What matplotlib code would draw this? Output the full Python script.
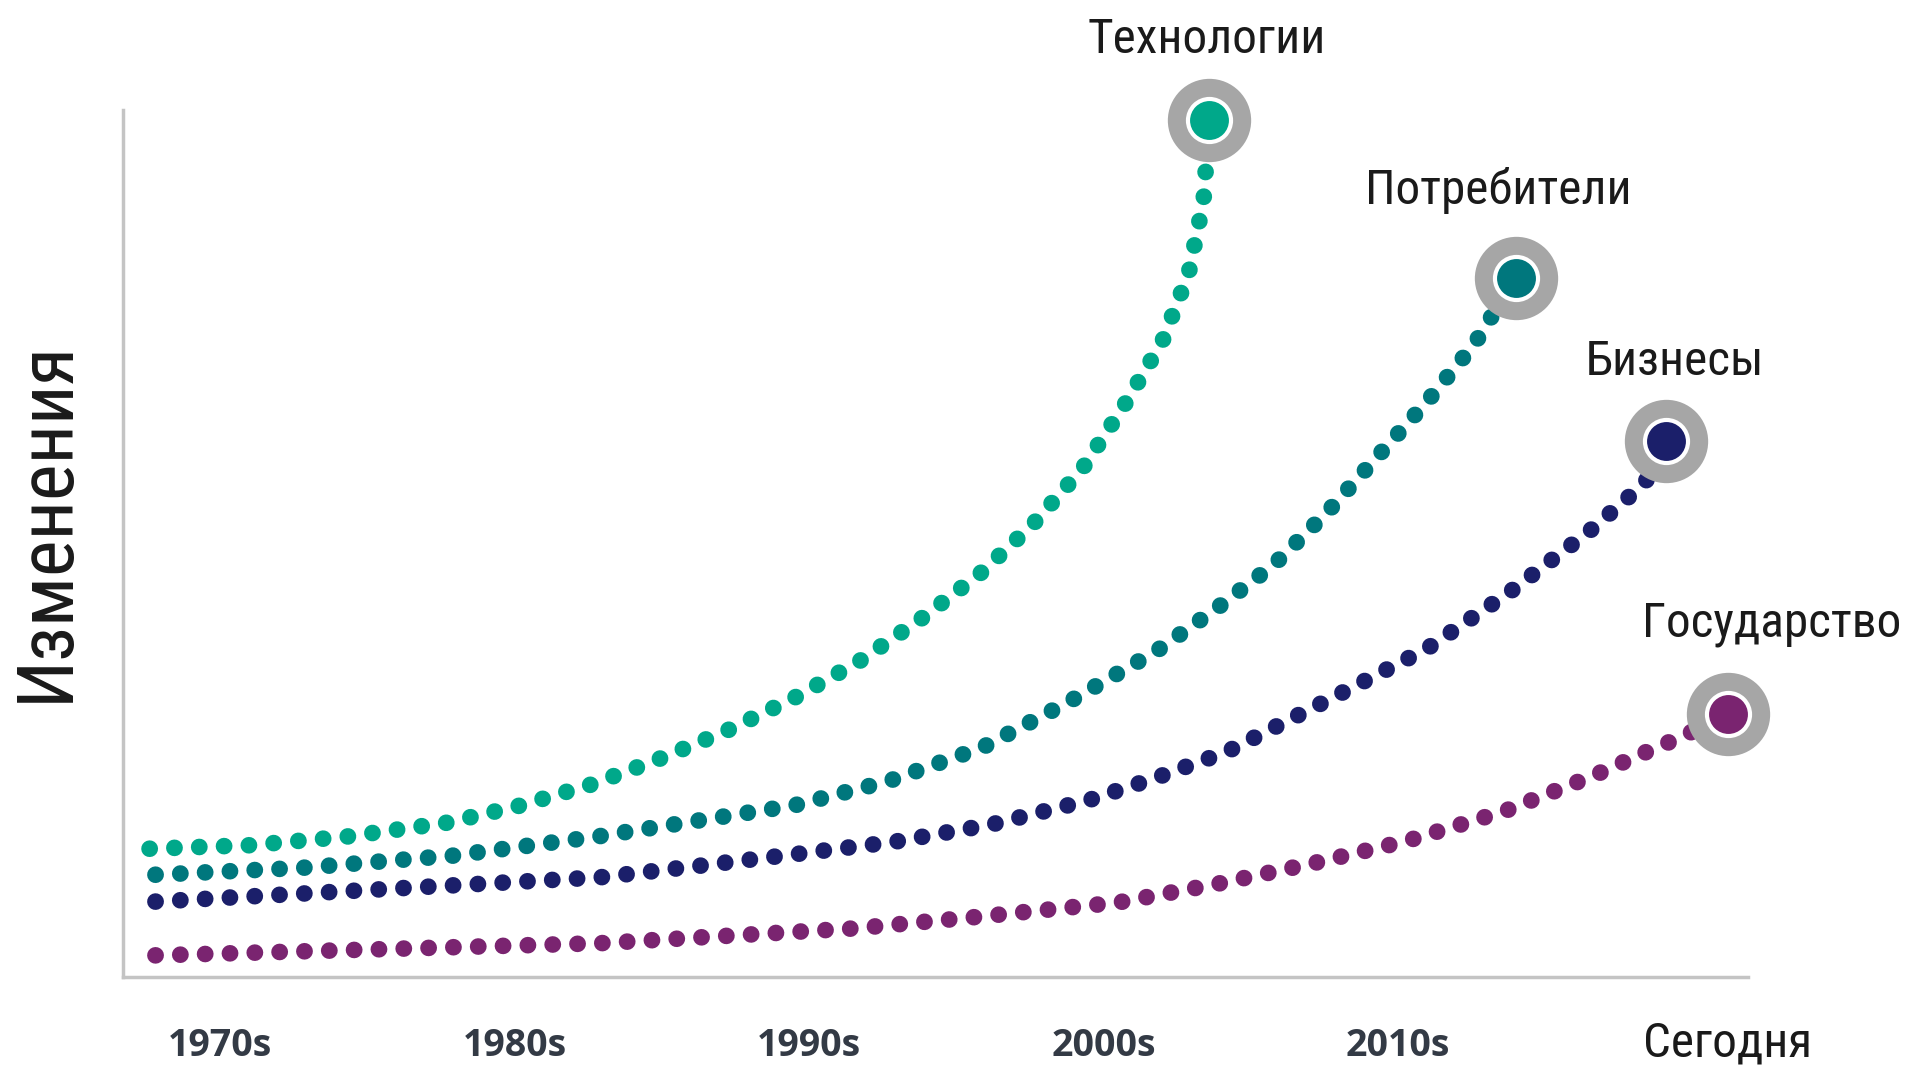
import matplotlib
matplotlib.use("Agg")
import matplotlib.pyplot as plt
from matplotlib import font_manager

# fonts
names = {f.name for f in font_manager.fontManager.ttflist}
narrow = [n for n in ['Roboto Condensed', 'Liberation Sans Narrow', 'Roboto'] if n in names]

# data (x in years, y = relative change index)
tech_x = [1972.6, 1976.0, 1979.3, 1982.7, 1985.1, 1987.6, 1989.8, 1992.2, 1994.5, 1996.7,
          1998.8, 2000.8, 2002.6, 2004.3, 2005.7, 2007.0, 2007.9, 2008.4, 2008.6]
tech_y = [14.8, 15.2, 16.2, 17.8, 19.7, 22.2, 25.0, 28.4, 32.2, 36.4,
          41.3, 46.5, 52.2, 58.7, 65.9, 73.3, 81.2, 89.5, 98.9]

cons_x = [1972.8, 1977.8, 1982.9, 1987.8, 1994.5, 1997.7, 2000.9, 2003.8, 2006.8, 2008.8,
          2010.8, 2012.6, 2014.3, 2016.0, 2017.6, 2019.0]
cons_y = [11.8, 12.6, 14.0, 16.2, 19.8, 22.6, 26.5, 31.7, 37.6, 42.4,
          47.6, 53.6, 60.0, 66.4, 73.0, 80.6]

biz_x = [1972.8, 1987.9, 1991.2, 1994.6, 1997.9, 2001.2, 2004.5, 2006.8, 2009.2, 2013.0,
         2016.0, 2018.8, 2021.5, 2023.4, 2024.1]
biz_y = [8.7, 11.5, 12.8, 14.2, 15.6, 17.6, 20.4, 23.0, 26.0, 32.6,
         37.9, 44.4, 51.4, 57.0, 61.8]

gov_x = [1972.8, 1987.9, 1996.5, 2000.6, 2005.5, 2008.8, 2012.1, 2015.3, 2018.6, 2021.7,
         2023.2, 2024.7, 2026.2]
gov_y = [2.5, 3.9, 5.6, 6.9, 8.6, 10.7, 13.1, 15.7, 19.1, 23.3,
         25.6, 27.8, 30.3]

series = [
    ('Технологии', tech_x, tech_y, '#00A88A', (2008.5, 106.6)),
    ('Потребители', cons_x, cons_y, '#00777D', (2018.4, 89.2)),
    ('Бизнесы', biz_x, biz_y, '#1B1F6A', (2024.4, 69.4)),
    ('Государство', gov_x, gov_y, '#7A2470', (2027.7, 39.3)),
]

tick_pos = [1975, 1985, 1995, 2005, 2015, 2026.2]
tick_labels = ['1970s', '1980s', '1990s', '2000s', '2010s', 'Сегодня']

fig = plt.figure(figsize=(19.08, 10.65), dpi=100)
ax = fig.add_axes([0.0645, 0.0826, 0.8517, 0.8141])

for name, xs, ys, col, lab in series:
    ax.plot(xs, ys, color=col, lw=12, linestyle=(0, (0.01, 1.48)),
            dash_capstyle='round', solid_capstyle='round', zorder=2, clip_on=False)
    ax.plot(xs[-1], ys[-1], 'o', ms=60, color='#A6A6A6', mew=0, zorder=4, clip_on=False)
    ax.plot(xs[-1], ys[-1], 'o', ms=34, color='white', mew=0, zorder=5, clip_on=False)
    ax.plot(xs[-1], ys[-1], 'o', ms=28, color=col, mew=0, zorder=6, clip_on=False)
    ax.text(lab[0], lab[1], name, ha='center', va='baseline', fontsize=35.5,
            family=narrow, color='#1A1A1A')

ax.set_xlim(1971.7, 2026.9)
ax.set_ylim(0, 100)
ax.set_yticks([])
ax.set_xticks(tick_pos, tick_labels)
ax.tick_params(axis='x', length=0, pad=36)
ax.xaxis.get_major_ticks()[-1].set_pad(31)
for t in ax.get_xticklabels()[:-1]:
    t.set_family('Open Sans')
    t.set_fontweight('bold')
    t.set_fontsize(27)
    t.set_color('#333A45')
last = ax.get_xticklabels()[-1]
last.set_family(narrow)
last.set_fontsize(35.5)
last.set_color('#1A1A1A')

ax.set_ylabel('Изменения', fontsize=56, family=narrow, color='#1A1A1A')
ax.yaxis.set_label_coords(-0.024, 0.526)

for s in ['top', 'right']:
    ax.spines[s].set_visible(False)
for s in ['left', 'bottom']:
    ax.spines[s].set_color('#C4C4C4')
    ax.spines[s].set_linewidth(2.5)

fig.savefig('out.png', dpi=100)
